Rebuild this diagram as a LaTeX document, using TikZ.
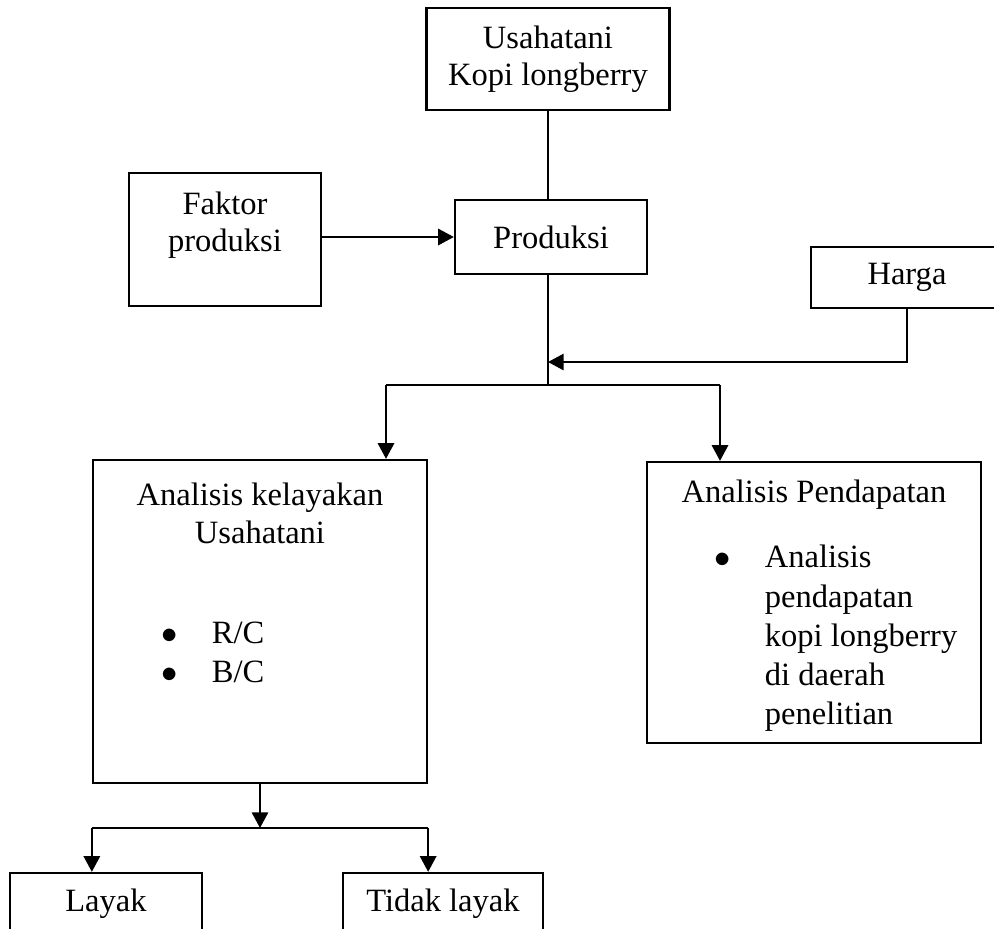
\documentclass[tikz,border=0pt]{standalone}
\usepackage{fontspec}
\setmainfont{Liberation Serif}
\usetikzlibrary{arrows.meta,positioning}
\newlength{\upx}
\setlength{\upx}{0.369pt}
\renewcommand{\arraystretch}{1.05}

\begin{document}
\begin{tikzpicture}[x={(0.369pt,0)}, y={(0,-0.369pt)},
  every node/.style={font=\fontsize{12}{13.8}\selectfont},
  box/.style={draw,line width=0.85pt,inner sep=0pt,align=center},
  txt/.style={inner sep=0pt,align=center},
  ln/.style={line width=0.85pt},
  ar/.style={-{Triangle[length=5.8pt,width=6pt]},line width=0.85pt}]

\useasboundingbox (0,0) rectangle (994,928);

\node[box,minimum width=243\upx,minimum height=102\upx] (usaha) at (548,59) {Usahatani\\Kopi longberry};
\node[box,minimum width=192\upx,minimum height=133\upx] (faktor) at (225,239.5) {};
\node[txt] (faktort) at (225,225) {Faktor\\produksi};
\node[box,minimum width=192\upx,minimum height=74\upx] (produksi) at (551,237) {Produksi};
\node[box,minimum width=192\upx,minimum height=61\upx] (harga) at (907,277.5) {Harga};

\node[box,minimum width=334\upx,minimum height=323\upx] (kel) at (260,621.5) {};
\node[txt] (kelt) at (260,513.5) {Analisis kelayakan\\Usahatani};
\node[txt,anchor=west] (kelb) at (161,655) {\begin{tabular}{@{}l@{\hspace{12.6pt}}l@{}}
  $\bullet$ & R/C\\ $\bullet$ & B/C\end{tabular}};

\node[box,minimum width=334\upx,minimum height=281\upx] (pend) at (814,602.5) {};
\node[txt] (pendt) at (814,495) {Analisis Pendapatan};
\node[txt,anchor=west] (pendb) at (714,638.5) {\begin{tabular}{@{}l@{\hspace{12.6pt}}l@{}}
  $\bullet$ & Analisis\\ & pendapatan\\ & kopi longberry\\ & di daerah\\ & penelitian\end{tabular}};

\node[box,minimum width=192\upx,minimum height=62\upx] (layak) at (106,904) {Layak};
\node[box,minimum width=200\upx,minimum height=62\upx] (tidak) at (443,904) {Tidak layak};

\coordinate (split) at (548,385);
\coordinate (hin) at (548,362);
\coordinate (splitL) at (386,385);
\coordinate (splitR) at (720,385);
\coordinate (fork) at (260,828);

\draw[ln] (usaha.south) -- (usaha.south |- produksi.north);
\draw[ar] (faktor.east |- produksi.west) -- (produksi.west);
\draw[ln] (produksi.south -| split) -- (split);
\draw[ar] (harga.south) |- (hin);
\draw[ln] (splitL) -- (splitR);
\foreach \a/\b in {splitL/kel, splitR/pend}
  \draw[ar] (\a) -- (\a |- \b.north);
\draw[ar] (kel.south) -- (fork);
\draw[ln] (kel.south west |- fork) -- (kel.south east |- fork);
\foreach \c/\d in {south west/layak, south east/tidak}
  \draw[ar] (kel.\c |- fork) -- (kel.\c |- \d.north);
\end{tikzpicture}
\end{document}
